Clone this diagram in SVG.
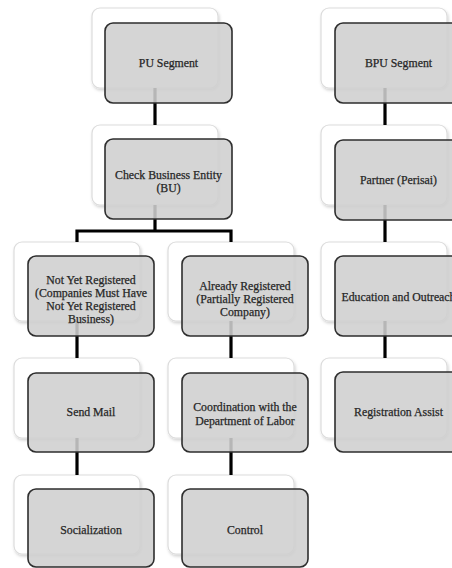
<svg xmlns="http://www.w3.org/2000/svg" width="452" height="568" viewBox="0 0 452 568">
<defs>
<filter id="sh" x="-10%" y="-10%" width="130%" height="130%">
<feDropShadow dx="1" dy="2" stdDeviation="1.5" flood-color="#000" flood-opacity="0.18"/>
</filter>
</defs>
<style>
.back{fill:#fff;stroke:#dcdcdc;stroke-width:1.2;filter:url(#sh)}
.front{fill:#cfcfcf;fill-opacity:0.88;stroke:#2e2e2e;stroke-width:1.6}
.conn{stroke:#000;stroke-width:3.2;fill:none}
text{font-family:"Liberation Serif","DejaVu Serif",serif;font-size:11.8px;fill:#262626;stroke:#262626;stroke-width:0.25;text-anchor:middle}
</style>
<rect width="452" height="568" fill="#fff"/>
<g id="backs">
<rect class="back" x="92" y="8" width="126" height="80" rx="8"/>
<rect class="back" x="92" y="125" width="126" height="80" rx="8"/>
<rect class="back" x="14" y="242" width="126" height="79" rx="8"/>
<rect class="back" x="168" y="242" width="126" height="79" rx="8"/>
<rect class="back" x="14" y="358" width="126" height="80" rx="8"/>
<rect class="back" x="168" y="358" width="126" height="80" rx="8"/>
<rect class="back" x="14" y="475" width="126" height="79" rx="8"/>
<rect class="back" x="168" y="475" width="126" height="79" rx="8"/>
<rect class="back" x="321" y="8" width="126" height="80" rx="8"/>
<rect class="back" x="321" y="125" width="126" height="80" rx="8"/>
<rect class="back" x="321" y="242" width="126" height="79" rx="8"/>
<rect class="back" x="321" y="358" width="126" height="80" rx="8"/>
</g>
<g id="connectors">
<path class="conn" d="M155,88 V125"/>
<path class="conn" d="M155,205 V231 M77,242 V231 H231 V242"/>
<path class="conn" d="M77,321 V358"/>
<path class="conn" d="M77,438 V475"/>
<path class="conn" d="M231,321 V358"/>
<path class="conn" d="M231,438 V475"/>
<path class="conn" d="M385,88 V125"/>
<path class="conn" d="M385,205 V242"/>
<path class="conn" d="M385,321 V358"/>
</g>
<g id="pu-segment">
<rect class="front" x="105" y="23" width="127" height="80" rx="8"/>
<text x="168.5" y="67">PU Segment</text>
</g>
<g id="check-business-entity">
<rect class="front" x="105" y="139" width="127" height="80" rx="8"/>
<text x="168.5" y="178.5">Check Business Entity</text>
<text x="168.5" y="191.5">(BU)</text>
</g>
<g id="not-yet-registered">
<rect class="front" x="28" y="256" width="126" height="80" rx="8"/>
<text x="91" y="284">Not Yet Registered</text>
<text x="91" y="297">(Companies Must Have</text>
<text x="91" y="310">Not Yet Registered</text>
<text x="91" y="323">Business)</text>
</g>
<g id="already-registered">
<rect class="front" x="182" y="256" width="126" height="80" rx="8"/>
<text x="245" y="290">Already Registered</text>
<text x="245" y="303">(Partially Registered</text>
<text x="245" y="316">Company)</text>
</g>
<g id="send-mail">
<rect class="front" x="28" y="373" width="126" height="79" rx="8"/>
<text x="91" y="416">Send Mail</text>
</g>
<g id="coordination">
<rect class="front" x="182" y="373" width="126" height="79" rx="8"/>
<text x="245" y="411">Coordination with the</text>
<text x="245" y="424.5">Department of Labor</text>
</g>
<g id="socialization">
<rect class="front" x="28" y="489" width="126" height="78" rx="8"/>
<text x="91" y="534">Socialization</text>
</g>
<g id="control">
<rect class="front" x="182" y="489" width="126" height="78" rx="8"/>
<text x="245" y="534">Control</text>
</g>
<g id="bpu-segment">
<rect class="front" x="335" y="23" width="127" height="80" rx="8"/>
<text x="398.5" y="67">BPU Segment</text>
</g>
<g id="partner">
<rect class="front" x="335" y="140" width="127" height="80" rx="8"/>
<text x="398.5" y="184">Partner (Perisai)</text>
</g>
<g id="education">
<rect class="front" x="335" y="256" width="127" height="80" rx="8"/>
<text x="398.5" y="301">Education and Outreach</text>
</g>
<g id="registration-assist">
<rect class="front" x="335" y="372" width="127" height="80" rx="8"/>
<text x="398.5" y="416">Registration Assist</text>
</g>
</svg>
